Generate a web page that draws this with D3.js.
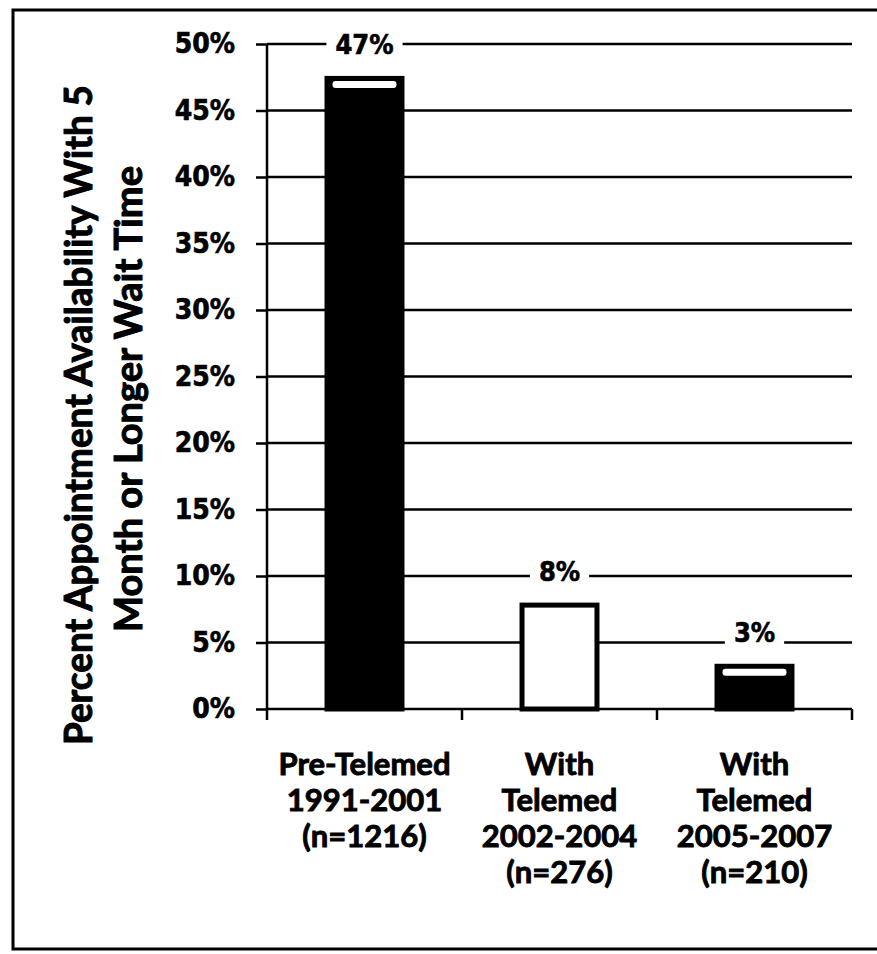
<!DOCTYPE html>
<html>
<head>
<meta charset="utf-8">
<script src="https://cdn.jsdelivr.net/npm/d3@7"></script>
<style>
  body { margin: 0; background: #fff; }
  svg { display: block; }
</style>
</head>
<body>
<div id="chart"></div>
<script>
// chart data
const categories = ["pre", "with1", "with2"];
const categoryLines = [
    ["Pre-Telemed", "1991-2001", "(n=1216)"],
    ["With", "Telemed", "2002-2004", "(n=276)"],
    ["With", "Telemed", "2005-2007", "(n=210)"]
];
const values = [0.476, 0.08, 0.034];
const valueLabels = ["47%", "8%", "3%"];
const barFills = ["#000", "#fff", "#000"];
const yTicks = [0, 0.05, 0.10, 0.15, 0.20, 0.25, 0.30, 0.35, 0.40, 0.45, 0.50];
const titleLines = ["Percent Appointment Availability With 5", "Month or Longer Wait Time"];

let width = 877,
    height = 954;

// plot area edges
const plotLeft = 267, plotRight = 852, plotTop = 44, plotBottom = 709;

let svg = d3.select("#chart")
    .append("svg")
    .attr("width", width)
    .attr("height", height);

// outer frame
svg.append("rect")
    .attr("x", 13).attr("y", 10)
    .attr("width", 872).attr("height", 939)
    .attr("fill", "none")
    .attr("stroke", "#000")
    .attr("stroke-width", 3);

let y = d3.scaleLinear()
    .domain([0, 0.5])
    .range([plotBottom, plotTop]);

let x = d3.scaleBand()
    .domain(categories)
    .range([plotLeft, plotRight])
    .paddingInner(0.59)
    .paddingOuter(0.295);

// gridlines
svg.append("g")
    .selectAll("line")
    .data(yTicks)
    .enter()
    .append("line")
    .attr("x1", plotLeft)
    .attr("x2", plotRight)
    .attr("y1", d => y(d))
    .attr("y2", d => y(d))
    .attr("stroke", "#000")
    .attr("stroke-width", 2.5);

// y axis
let yAxis = svg.append("g")
    .attr("transform", `translate(${plotLeft},0)`)
    .call(d3.axisLeft(y).tickValues(yTicks).tickFormat(d3.format(".0%")).tickSize(11).tickPadding(21));
yAxis.select(".domain").remove();
yAxis.selectAll(".tick line").attr("stroke", "#000").attr("stroke-width", 2.5);
yAxis.selectAll(".tick text")
    .attr("font-family", "'DejaVu Sans Condensed', 'DejaVu Sans', sans-serif")
    .attr("font-weight", "bold")
    .attr("font-size", 28)
    .attr("fill", "#000")
    .attr("stroke", "#000")
    .attr("stroke-width", 0.6);

// category boundaries for the bottom ticks
const step = x.step();
const bounds = d3.range(categories.length + 1).map(i => plotLeft + i * step);

svg.append("line")
    .attr("x1", plotLeft).attr("x2", plotLeft)
    .attr("y1", y(0.5)).attr("y2", plotBottom + 11)
    .attr("stroke", "#000").attr("stroke-width", 2.5);

svg.append("g")
    .selectAll("line")
    .data(bounds.slice(1))
    .enter()
    .append("line")
    .attr("x1", d => d).attr("x2", d => d)
    .attr("y1", plotBottom).attr("y2", plotBottom + 11)
    .attr("stroke", "#000").attr("stroke-width", 2.5);

// bars
svg.append("g")
    .selectAll("rect")
    .data(values)
    .enter()
    .append("rect")
    .attr("x", (d, i) => x(categories[i]) + 2.5)
    .attr("y", d => y(d) + 2.5)
    .attr("width", x.bandwidth() - 5)
    .attr("height", d => y(0) - y(d) - 2.5)
    .attr("fill", (d, i) => barFills[i])
    .attr("stroke", "#000")
    .attr("stroke-width", 5);

// little white sheen on top of the dark bars
svg.append("g")
    .selectAll("rect")
    .data(values.map((v, i) => ({v: v, i: i})).filter(d => barFills[d.i] == "#000"))
    .enter()
    .append("rect")
    .attr("x", d => x(categories[d.i]) + 8)
    .attr("y", d => y(d.v) + 5)
    .attr("width", x.bandwidth() - 16)
    .attr("height", 7)
    .attr("rx", 3)
    .attr("fill", "#fff");

// value labels with white box knocking out the gridline
let labels = svg.append("g");
let lab = labels.selectAll("g")
    .data(values)
    .enter()
    .append("g")
    .attr("transform", (d, i) => `translate(${x(categories[i]) + x.bandwidth() / 2},${y(d) - 22})`);

lab.append("text")
    .attr("text-anchor", "middle")
    .attr("font-family", "'DejaVu Sans Condensed', 'DejaVu Sans', sans-serif")
    .attr("font-weight", "bold")
    .attr("font-size", 27)
    .attr("fill", "#000")
    .attr("stroke", "#000")
    .attr("stroke-width", 0.6)
    .text((d, i) => valueLabels[i]);

lab.each(function() {
    let g = d3.select(this);
    let bb = g.select("text").node().getBBox();
    g.insert("rect", "text")
        .attr("x", bb.x - 9)
        .attr("y", bb.y)
        .attr("width", bb.width + 18)
        .attr("height", bb.height)
        .attr("fill", "#fff");
});

// category labels
let cats = svg.append("g")
    .selectAll("text")
    .data(categoryLines)
    .enter()
    .append("text")
    .attr("text-anchor", "middle")
    .attr("font-family", "Lato, 'Open Sans', sans-serif")
    .attr("font-weight", "bold")
    .attr("font-size", 31)
    .attr("fill", "#000")
    .attr("stroke", "#000")
    .attr("stroke-width", 0.9);

cats.selectAll("tspan")
    .data((d, i) => d.map(t => ({t: t, i: i})))
    .enter()
    .append("tspan")
    .attr("x", d => x(categories[d.i]) + x.bandwidth() / 2)
    .attr("y", (d, j) => 775 + j * 36)
    .text(d => d.t);

// y axis title (two lines, rotated)
const titleBase = [92, 142], titleMid = [415, 399], titleLen = [660, 466];
svg.append("g")
    .selectAll("text")
    .data(titleLines)
    .enter()
    .append("text")
    .attr("transform", (d, i) => `translate(${titleBase[i]},${titleMid[i]}) rotate(-90)`)
    .attr("text-anchor", "middle")
    .attr("font-family", "Lato, 'Open Sans', sans-serif")
    .attr("font-weight", "bold")
    .attr("font-size", 38)
    .attr("textLength", (d, i) => titleLen[i])
    .attr("lengthAdjust", "spacingAndGlyphs")
    .attr("fill", "#000")
    .attr("stroke", "#000")
    .attr("stroke-width", 1)
    .text(d => d);
</script>
</body>
</html>
